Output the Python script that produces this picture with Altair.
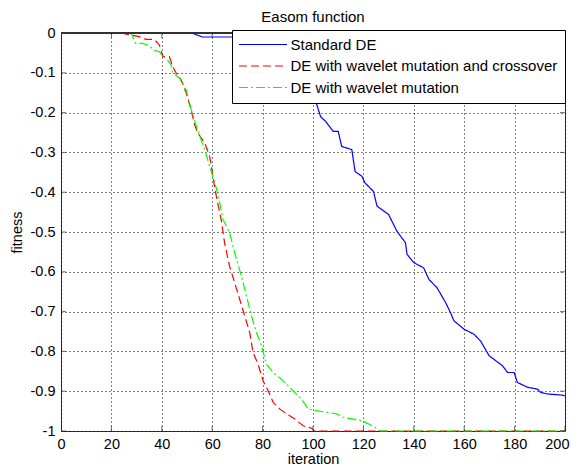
import altair as alt
import pandas as pd

# ---- data ----
series_names = [
    "Standard DE",
    "DE with wavelet mutation and crossover",
    "DE with wavelet mutation",
]
series_colors = ["#0000FF", "#FF0000", "#00FF00"]
series_dashes = [[1, 0], [8, 4], [9, 3, 2, 3]]

std_iter = [0, 52, 56, 68, 75, 82, 88, 93, 97, 100, 101, 103, 105, 108, 110, 111.4,
            115.4, 116.7, 119.4, 120.7, 124, 125.4, 130, 133.3, 136.7, 137.3, 140,
            143.9, 146, 149.2, 152.6, 154.6, 155.9, 159.9, 163.9, 166.5, 169.9,
            175.2, 177.2, 179.8, 181.1, 185.1, 189.1, 190.4, 193.1, 199, 200]
std_fit = [0, 0, -0.01, -0.01, -0.02, -0.04, -0.07, -0.10, -0.13, -0.16, -0.17,
           -0.21, -0.222, -0.247, -0.247, -0.285, -0.293, -0.348, -0.36, -0.377,
           -0.398, -0.435, -0.456, -0.498, -0.527, -0.556, -0.577, -0.59, -0.619,
           -0.64, -0.677, -0.703, -0.723, -0.744, -0.757, -0.774, -0.811, -0.836,
           -0.853, -0.853, -0.878, -0.89, -0.895, -0.903, -0.907, -0.91, -0.912]

wmc_iter = [0, 23.8, 27.7, 31, 33.7, 37, 39, 40.4, 43, 44.3, 45.7, 47.7, 49.7, 51.7,
            53, 54.3, 57, 59, 60.3, 61, 62.3, 63.6, 64.9, 66.9, 68.9, 70.9, 72.9,
            74.9, 76.2, 78.2, 80.2, 82.2, 84.2, 86.9, 89.5, 92.8, 96.1, 99.5, 100.5, 200]
wmc_fit = [0, 0, -0.005, -0.009, -0.016, -0.016, -0.03, -0.059, -0.059, -0.084,
           -0.101, -0.118, -0.151, -0.195, -0.23, -0.251, -0.276, -0.31, -0.36,
           -0.389, -0.431, -0.47, -0.527, -0.586, -0.627, -0.669, -0.711, -0.753,
           -0.803, -0.832, -0.874, -0.899, -0.928, -0.945, -0.957, -0.97, -0.987,
           -0.993, -1, -1]

wm_iter = [0, 27.8, 29.7, 32.4, 34.4, 37, 39, 40.4, 41.7, 43.7, 44.3, 47, 49.7, 51.7,
           53.5, 57, 61.6, 63, 64.3, 66.9, 68.9, 71.6, 73.6, 75.6, 77.6, 79.6, 81.5,
           84.2, 88.2, 92.1, 95.5, 98.1, 101.5, 105.5, 109.4, 112.1, 116.1, 119.4,
           122, 124.7, 126.7, 200]
wm_fit = [0, 0, -0.026, -0.026, -0.03, -0.043, -0.047, -0.059, -0.063, -0.08, -0.1,
          -0.113, -0.143, -0.193, -0.23, -0.293, -0.389, -0.427, -0.469, -0.502,
          -0.552, -0.611, -0.661, -0.711, -0.753, -0.786, -0.832, -0.853, -0.874,
          -0.899, -0.92, -0.945, -0.949, -0.953, -0.957, -0.966, -0.97, -0.974,
          -0.982, -0.991, -1, -1]

x_ticks = [0, 20, 40, 60, 80, 100, 120, 140, 160, 180, 200]
y_ticks = [0, -0.1, -0.2, -0.3, -0.4, -0.5, -0.6, -0.7, -0.8, -0.9, -1]

FONT = "Liberation Sans"

rows = []
for name, its, fits in zip(series_names, [std_iter, wmc_iter, wm_iter],
                           [std_fit, wmc_fit, wm_fit]):
    for i, f in zip(its, fits):
        rows.append({"series": name, "iteration": i, "fitness": f})
df = pd.DataFrame(rows)

xscale = alt.Scale(domain=[0, 200], nice=False, zero=False)
yscale = alt.Scale(domain=[-1, 0], nice=False, zero=False)

legend = alt.Legend(
    title=None, orient="none", legendX=171, legendY=-3,
    symbolType="M-5,0H5", symbolSize=92.16, symbolStrokeWidth=1.2,
    symbolOffset=16.5, labelOffset=20, labelFont=FONT, labelFontSize=15,
    labelColor="#000", labelLimit=500, rowPadding=5.5, padding=7,
    fillColor="#FFFFFF", strokeColor="#000000", cornerRadius=0,
)

y_label_expr = ("datum.value == 0 ? '0' : (datum.value <= -0.999 ? '-1' : "
                "'-0.' + round(-datum.value * 10))")

lines = alt.Chart(df).mark_line(strokeWidth=1.2).encode(
    x=alt.X("iteration:Q", scale=xscale,
            axis=alt.Axis(values=x_ticks, tickCount=12, title="iteration", labelPadding=6,
                          titlePadding=2, labelFlush=False, labelOverlap=False,
                          labelAlign={"condition": {"test": "datum.value == 200", "value": "right"},
                                      "value": "center"},
                          labelOffset={"condition": {"test": "datum.value == 200", "value": 4},
                                       "value": 0})),
    y=alt.Y("fitness:Q", scale=yscale,
            axis=alt.Axis(values=y_ticks, tickCount=12, title="fitness", labelPadding=6,
                          titlePadding=6, labelFlush=False, labelOverlap=False,
                          labelBound=False, labelExpr=y_label_expr)),
    color=alt.Color("series:N", scale=alt.Scale(domain=series_names, range=series_colors),
                    sort=series_names, legend=legend),
    strokeDash=alt.StrokeDash("series:N", scale=alt.Scale(domain=series_names, range=series_dashes),
                              sort=series_names, legend=legend),
    order=alt.Order("iteration:Q"),
)

xt = pd.DataFrame({"t": x_ticks})
yt = pd.DataFrame({"t": y_ticks})

tick_bottom = alt.Chart(xt).mark_tick(orient="vertical", size=10, thickness=1,
                                      color="#333", clip=True).encode(
    x=alt.X("t:Q", scale=xscale), y=alt.datum(-1, scale=yscale))
tick_top = alt.Chart(xt).mark_tick(orient="vertical", size=10, thickness=1,
                                   color="#333", clip=True).encode(
    x=alt.X("t:Q", scale=xscale), y=alt.datum(0, scale=yscale))
tick_left = alt.Chart(yt).mark_tick(orient="horizontal", size=10, thickness=1,
                                    color="#333", clip=True).encode(
    y=alt.Y("t:Q", scale=yscale), x=alt.datum(0, scale=xscale))
tick_right = alt.Chart(yt).mark_tick(orient="horizontal", size=10, thickness=1,
                                     color="#333", clip=True).encode(
    y=alt.Y("t:Q", scale=yscale), x=alt.datum(200, scale=xscale))

# top frame edge drawn over the lines (as in the reference)
top_edge = alt.Chart(xt).mark_rule(color="#333", strokeWidth=1).encode(
    y=alt.datum(0, scale=yscale))

chart = alt.layer(lines, tick_bottom, tick_top, tick_left, tick_right, top_edge).properties(
    width=504, height=398,
    title=alt.Title("Easom function", font=FONT, fontSize=15, fontWeight="normal",
                    color="#000", offset=0),
    autosize=alt.AutoSizeParams(type="none"),
    padding={"left": 53, "top": 25, "right": 5, "bottom": 35},
).configure_view(
    stroke="#333", strokeWidth=1
).configure_axis(
    grid=True, gridColor="#000", gridDash=[1, 3], gridOpacity=1, gridWidth=1,
    domain=False, ticks=False, labelOverlap=False,
    labelFont=FONT, labelFontSize=14.5, labelColor="#000",
    titleFont=FONT, titleFontSize=14.5, titleFontWeight="normal", titleColor="#000",
)

chart.save("out.html", embed_options={"renderer": "svg", "actions": False})
